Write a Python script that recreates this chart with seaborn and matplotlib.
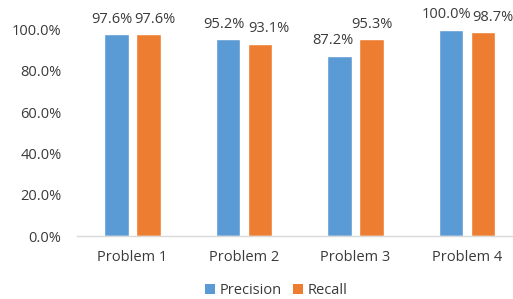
import matplotlib
matplotlib.use("Agg")
import matplotlib.pyplot as plt
import seaborn as sns
import pandas as pd
from matplotlib.ticker import FuncFormatter
from matplotlib.patches import Patch

categories = ["Problem 1", "Problem 2", "Problem 3", "Problem 4"]
precision = [0.976, 0.952, 0.872, 1.000]
recall = [0.976, 0.931, 0.953, 0.987]
series = ["Precision", "Recall"]
colors = ["#5B9BD5", "#ED7D31"]

# horizontal nudges (px) of data labels to avoid collisions, as in the reference
label_shift = {
    "Precision": [-4.5, -4.5, -6.5, -4.5],
    "Recall": [6.5, 8.5, 0.0, 9.5],
}

df = pd.DataFrame({
    "cat": categories * 2,
    "val": precision + recall,
    "series": [series[0]] * 4 + [series[1]] * 4,
})

sns.set_style("white")
plt.rcParams["font.family"] = ["Open Sans", "DejaVu Sans"]
txt = "#3A3A3A"
fs = 10.5

fig = plt.figure(figsize=(5.13, 2.99), dpi=100)
ax = fig.add_axes([0.1496, 0.2107, 0.8504, 0.6906])
sns.barplot(data=df, x="cat", y="val", hue="series", palette=colors,
            width=0.574, gap=0.22, ax=ax, legend=False, saturation=1)

ax.set_xlim(-0.5, 3.4125)
ax.set_ylim(0, 1.0)
ax.set_yticks([0, 0.2, 0.4, 0.6, 0.8, 1.0])
ax.yaxis.set_major_formatter(FuncFormatter(lambda v, p: f"{v*100:.1f}%"))
ax.set_xlabel("")
ax.set_ylabel("")
for s in ["top", "right", "left"]:
    ax.spines[s].set_visible(False)
ax.spines["bottom"].set_color("#D9D9D9")
ax.spines["bottom"].set_linewidth(1.0)
ax.tick_params(axis="y", length=0, pad=11, labelsize=fs, labelcolor=txt)
ax.tick_params(axis="x", length=0, pad=10, labelsize=fs, labelcolor=txt)

px2pt = 72 / 100
for container, name in zip(ax.containers, series):
    for bar, dx in zip(container, label_shift[name]):
        h = bar.get_height()
        ax.annotate(f"{h*100:.1f}%", (bar.get_x() + bar.get_width() / 2, h),
                    xytext=(dx * px2pt, 15 * px2pt), textcoords="offset points",
                    ha="center", va="center", fontsize=fs, color=txt,
                    annotation_clip=False)

handles = [Patch(facecolor=c, edgecolor="none") for c in colors]
fig.legend(handles, series, loc="center", bbox_to_anchor=(0.538, 0.028), ncol=2,
           frameon=False, fontsize=fs, handlelength=0.7, handleheight=0.7,
           handletextpad=0.3, columnspacing=0.8, labelcolor=txt)

fig.savefig("out.png", dpi=100)
